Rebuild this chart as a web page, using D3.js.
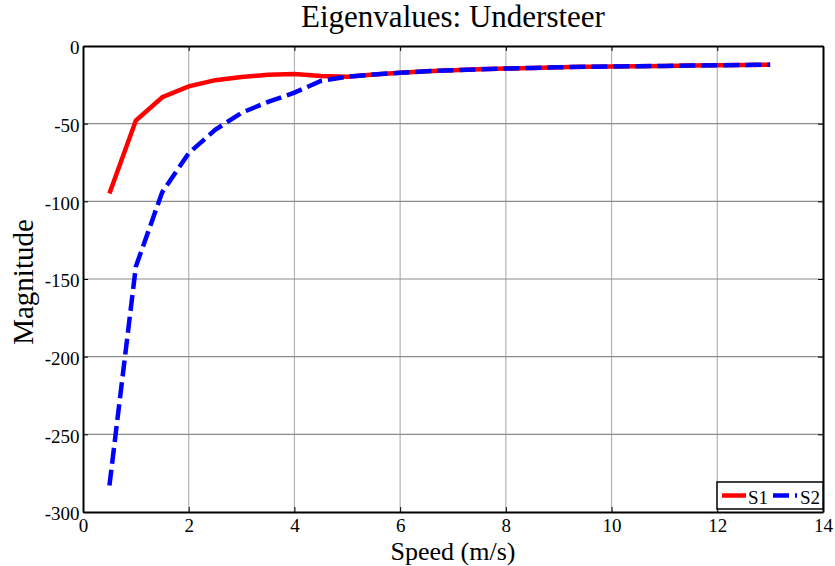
<!DOCTYPE html>
<html>
<head>
<meta charset="utf-8">
<script src="https://cdn.jsdelivr.net/npm/d3@7"></script>
<style>
  body { margin: 0; background: #fff; }
  text { font-family: "Liberation Serif", "Times New Roman", serif; }
</style>
</head>
<body>
<div id="chart"></div>
<script>
// speeds (m/s)
const speeds = [0.5, 1, 1.5, 2, 2.5, 3, 3.5, 4, 4.5, 5, 5.5, 6, 6.5, 7, 7.5, 8, 8.5, 9, 9.5, 10, 10.5, 11, 11.5, 12, 12.5, 13];
// eigenvalue magnitudes
const s1 = [-95, -48, -33, -26, -22, -20, -18.5, -18, -19.3, -19.8, -18.3, -17.2, -16.3, -15.6, -15, -14.5, -14.1, -13.7, -13.4, -13.2, -13, -12.8, -12.6, -12.4, -12.2, -12];
const s2 = [-283, -142, -94, -69, -54, -43, -36, -30, -22.5, -19.8, -18.3, -17.2, -16.3, -15.6, -15, -14.5, -14.1, -13.7, -13.4, -13.2, -13, -12.8, -12.6, -12.4, -12.2, -12];
const xTicks = [0, 2, 4, 6, 8, 10, 12, 14];
const yTicks = [0, -50, -100, -150, -200, -250, -300];

const width = 835, height = 566;
const margin = { left: 83, right: 12, top: 46, bottom: 54 };

const svg = d3.select("#chart")
  .append("svg")
  .attr("width", width)
  .attr("height", height);

const x = d3.scaleLinear().domain([0, 14]).range([margin.left, width - margin.right]);
const y = d3.scaleLinear().domain([-300, 0]).range([height - margin.bottom, margin.top]);

// grid lines
svg.append("g")
  .selectAll("line")
  .data(xTicks.slice(1, -1))
  .enter().append("line")
  .attr("x1", d => x(d)).attr("x2", d => x(d))
  .attr("y1", y(0)).attr("y2", y(-300))
  .attr("stroke", "#b4b4b4").attr("stroke-width", 1.2);

svg.append("g")
  .selectAll("line")
  .data(yTicks.slice(1, -1))
  .enter().append("line")
  .attr("x1", x(0)).attr("x2", x(14))
  .attr("y1", d => y(d)).attr("y2", d => y(d))
  .attr("stroke", "#8c8c8c").attr("stroke-width", 1.2);

// axes, ticks pointing inward on all sides
const tickFont = g => g.selectAll("text")
  .style("font-family", "'Liberation Serif', serif")
  .style("font-size", "19px")
  .attr("fill", "#000");

svg.append("g")
  .attr("transform", `translate(0,${y(-300)})`)
  .call(d3.axisBottom(x).tickValues(xTicks).tickSizeInner(-5).tickSizeOuter(0).tickPadding(6.5))
  .call(tickFont)
  .call(g => g.select(".domain").attr("stroke-width", 2));

svg.append("g")
  .attr("transform", `translate(0,${y(0)})`)
  .call(d3.axisTop(x).tickValues(xTicks).tickSizeInner(-5).tickSizeOuter(0).tickFormat(""))
  .call(g => g.select(".domain").attr("stroke-width", 2));

svg.append("g")
  .attr("transform", `translate(${x(0)},0)`)
  .call(d3.axisLeft(y).tickValues(yTicks).tickSizeInner(-5).tickSizeOuter(0).tickPadding(3.5))
  .call(tickFont)
  .call(g => g.selectAll("text").attr("dy", "0.42em").text(d => d === 0 ? "0" : String(d).replace("−", "-")))
  .call(g => g.select(".domain").attr("stroke-width", 2));

svg.append("g")
  .attr("transform", `translate(${x(14)},0)`)
  .call(d3.axisRight(y).tickValues(yTicks).tickSizeInner(-5).tickSizeOuter(0).tickFormat(""))
  .call(g => g.select(".domain").attr("stroke-width", 2));

// lines
const line = d3.line().x(d => x(d[0])).y(d => y(d[1]));

svg.append("path")
  .datum(speeds.map((s, i) => [s, s1[i]]))
  .attr("d", line)
  .attr("fill", "none")
  .attr("stroke", "#ff0000")
  .attr("stroke-width", 4.5);

svg.append("path")
  .datum(speeds.map((s, i) => [s, s2[i]]))
  .attr("d", line)
  .attr("fill", "none")
  .attr("stroke", "#0000ff")
  .attr("stroke-width", 4.5)
  .attr("stroke-dasharray", "16,6");

// legend
const lg = svg.append("g").attr("transform", `translate(${x(14) - 106},482)`);
lg.append("rect").attr("width", 106).attr("height", 27)
  .attr("fill", "#fff").attr("stroke", "#000").attr("stroke-width", 1.5);
lg.append("line").attr("x1", 5).attr("x2", 29).attr("y1", 13.5).attr("y2", 13.5)
  .attr("stroke", "#ff0000").attr("stroke-width", 4.5);
lg.append("text").attr("x", 31).attr("y", 22).text("S1").style("font-size", "19px");
lg.append("line").attr("x1", 56).attr("x2", 80).attr("y1", 13.5).attr("y2", 13.5)
  .attr("stroke", "#0000ff").attr("stroke-width", 4.5).attr("stroke-dasharray", "16,6");
lg.append("text").attr("x", 83).attr("y", 22).text("S2").style("font-size", "19px");

// title and axis labels
svg.append("text")
  .attr("x", (x(0) + x(14)) / 2).attr("y", 27)
  .attr("text-anchor", "middle")
  .style("font-size", "31px")
  .text("Eigenvalues: Understeer");

svg.append("text")
  .attr("x", (x(0) + x(14)) / 2).attr("y", 560)
  .attr("text-anchor", "middle")
  .style("font-size", "26px")
  .text("Speed (m/s)");

svg.append("text")
  .attr("transform", `translate(33,282) rotate(-90)`)
  .attr("text-anchor", "middle")
  .style("font-size", "29px")
  .text("Magnitude");
</script>
</body>
</html>
